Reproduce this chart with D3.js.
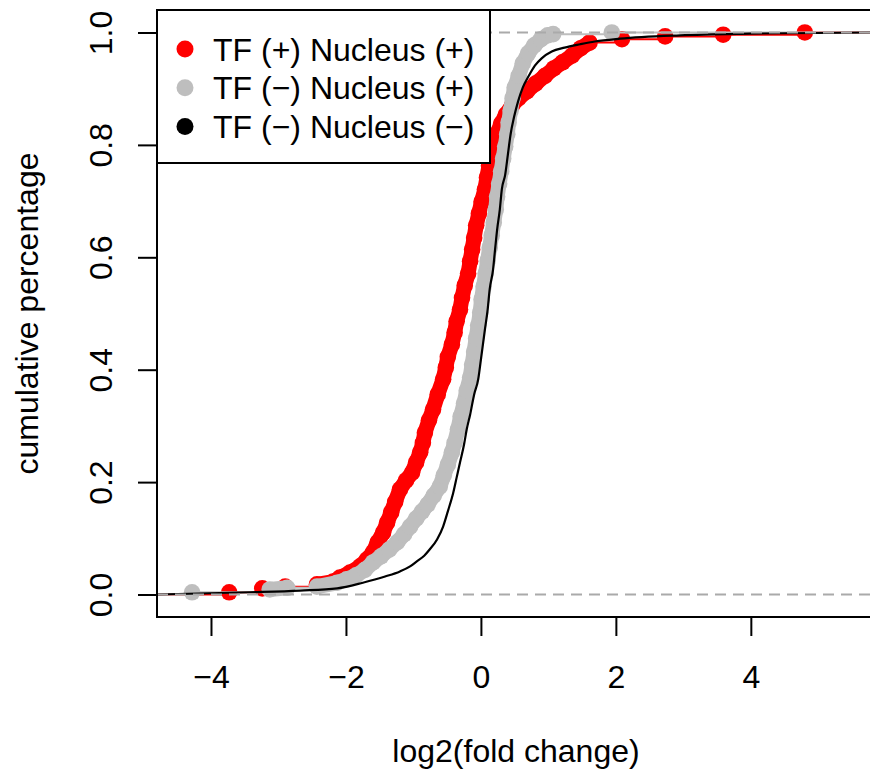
<!DOCTYPE html>
<html>
<head>
<meta charset="utf-8">
<script src="https://cdnjs.cloudflare.com/ajax/libs/d3/7.8.5/d3.min.js"></script>
<style>
body { margin: 0; background: #fff; }
svg { display: block; font-family: "Liberation Sans", Arial, Helvetica, sans-serif; }
</style>
</head>
<body>
<div id="chart"></div>
<script>
"use strict";

// ecdf points (log2 fold change, cumulative fraction)
var redX = [-3.73, -3.24, -2.90, -2.43, -2.19, -2.09, -1.94, -1.79, -1.69, -1.60, -1.53, -1.45, -1.39, -1.33, -1.27,
    -1.20, -1.11, -1.02, -0.96, -0.90, -0.86, -0.83, -0.77, -0.71, -0.64, -0.56, -0.52, -0.49, -0.43, -0.39,
    -0.36, -0.31, -0.28, -0.24, -0.19, -0.16, -0.13, -0.10, -0.07, -0.03, 0.01, 0.06, 0.09, 0.12, 0.15,
    0.19, 0.24, 0.30, 0.37, 0.46, 0.56, 0.68, 0.81, 0.95, 1.08, 1.21, 1.35, 1.48, 1.61, 2.09, 2.73, 3.59, 4.80];
var redY = [0.004, 0.011, 0.014, 0.018, 0.023, 0.030, 0.039, 0.050, 0.062, 0.075, 0.093, 0.110, 0.128, 0.146, 0.165,
    0.187, 0.203, 0.217, 0.235, 0.253, 0.270, 0.288, 0.310, 0.329, 0.356, 0.383, 0.404, 0.423, 0.445, 0.466,
    0.486, 0.507, 0.528, 0.550, 0.571, 0.593, 0.614, 0.635, 0.657, 0.678, 0.699, 0.721, 0.742, 0.763, 0.783,
    0.802, 0.820, 0.838, 0.854, 0.870, 0.883, 0.895, 0.909, 0.923, 0.936, 0.947, 0.959, 0.972, 0.982, 0.988, 0.993, 0.996, 1.000];

var grayX = [-4.28, -3.13, -2.87, -2.43, -2.13, -1.99, -1.85, -1.72, -1.60, -1.48, -1.36, -1.24, -1.14, -1.05, -0.96,
    -0.87, -0.79, -0.70, -0.61, -0.55, -0.49, -0.43, -0.39, -0.34, -0.30, -0.25, -0.21, -0.16, -0.13, -0.10,
    -0.07, -0.04, -0.01, 0.01, 0.04, 0.07, 0.10, 0.13, 0.16, 0.19, 0.22, 0.24, 0.27, 0.30, 0.33,
    0.36, 0.39, 0.41, 0.44, 0.47, 0.50, 0.56, 0.62, 0.70, 0.79, 0.89, 0.99, 1.07, 1.94];
var grayY = [0.004, 0.009, 0.012, 0.014, 0.021, 0.027, 0.034, 0.044, 0.057, 0.068, 0.080, 0.093, 0.107, 0.121, 0.135,
    0.148, 0.160, 0.176, 0.192, 0.212, 0.231, 0.253, 0.270, 0.294, 0.317, 0.340, 0.363, 0.386, 0.409, 0.432,
    0.456, 0.479, 0.502, 0.525, 0.548, 0.571, 0.594, 0.617, 0.639, 0.662, 0.685, 0.708, 0.731, 0.753, 0.776,
    0.797, 0.819, 0.840, 0.861, 0.883, 0.902, 0.923, 0.945, 0.963, 0.977, 0.988, 0.995, 0.997, 1.000];

var blackX = [-4.80, -3.42, -2.68, -2.13, -1.75, -1.42, -1.20, -1.05, -0.95, -0.84, -0.76, -0.65, -0.56, -0.49, -0.41,
    -0.36, -0.31, -0.25, -0.21, -0.16, -0.10, -0.04, 0.00, 0.06, 0.10, 0.13, 0.18, 0.21, 0.24, 0.28,
    0.31, 0.36, 0.40, 0.44, 0.49, 0.55, 0.62, 0.71, 0.80, 0.90, 1.05, 1.24, 1.47, 1.69, 2.06, 2.95, 3.99, 5.76];
var blackY = [0.000, 0.004, 0.007, 0.011, 0.021, 0.032, 0.041, 0.050, 0.059, 0.069, 0.080, 0.098, 0.121, 0.148, 0.181,
    0.208, 0.235, 0.267, 0.294, 0.320, 0.356, 0.383, 0.418, 0.472, 0.507, 0.543, 0.578, 0.614, 0.649, 0.685,
    0.721, 0.747, 0.783, 0.819, 0.849, 0.877, 0.902, 0.923, 0.941, 0.954, 0.966, 0.973, 0.979, 0.984, 0.989, 0.995, 0.998, 1.000];

var legendLabels = ["TF (+) Nucleus (+)", "TF (\u2212) Nucleus (+)", "TF (\u2212) Nucleus (\u2212)"];
var legendColors = ["#FF0000", "#BEBEBE", "#000000"];
var xTicks = [-4, -2, 0, 2, 4];
var yTicks = [0, 0.2, 0.4, 0.6, 0.8, 1.0];

var W = 870, H = 769, FS = 32, R = 8.3;

var x = d3.scaleLinear().domain([-4.8, 5.84]).range([157, 875]);
var y = d3.scaleLinear().domain([-0.04, 1.04]).range([617, 10]);

var svg = d3.select("#chart").append("svg")
    .attr("width", W)
    .attr("height", H);

svg.append("defs").append("clipPath").attr("id", "plotclip")
    .append("rect")
    .attr("x", x.range()[0])
    .attr("y", y.range()[1])
    .attr("width", x.range()[1] - x.range()[0])
    .attr("height", y.range()[0] - y.range()[1]);

var plot = svg.append("g").attr("clip-path", "url(#plotclip)");

function zip(xs, ys) {
    return xs.map(function (v, i) { return { x: v, y: ys[i] }; });
}

var series = [
    { pts: zip(redX, redY), color: legendColors[0], dots: true },
    { pts: zip(grayX, grayY), color: legendColors[1], dots: true },
    { pts: zip(blackX, blackY), color: legendColors[2], dots: false }
];

var stepLine = d3.line()
    .x(function (d) { return x(d.x); })
    .y(function (d) { return y(d.y); })
    .curve(d3.curveStepAfter);

var smoothLine = d3.line()
    .x(function (d) { return x(d.x); })
    .y(function (d) { return y(d.y); })
    .curve(d3.curveMonotoneX);

var xd = x.domain();

series.forEach(function (s) {
    if (s.dots) {
        // ecdf horizontals run out to the plot edges
        var pts = [{ x: xd[0], y: 0 }].concat(s.pts, [{ x: xd[1], y: 1 }]);
        plot.append("path")
            .attr("d", stepLine(pts))
            .attr("fill", "none")
            .attr("stroke", s.color)
            .attr("stroke-width", 2);

        // where the points crowd together they merge into one band
        var segs = [];
        for (var i = 1; i < s.pts.length; i++) {
            var a = s.pts[i - 1], b = s.pts[i];
            var dist = Math.hypot(x(b.x) - x(a.x), y(b.y) - y(a.y));
            if (dist < 22) segs.push([a, b]);
        }
        plot.append("g")
            .selectAll("line")
            .data(segs)
            .join("line")
            .attr("x1", function (d) { return x(d[0].x); })
            .attr("y1", function (d) { return y(d[0].y); })
            .attr("x2", function (d) { return x(d[1].x); })
            .attr("y2", function (d) { return y(d[1].y); })
            .attr("stroke", s.color)
            .attr("stroke-width", 2 * R - 1.5)
            .attr("stroke-linecap", "round");

        plot.append("g")
            .selectAll("circle")
            .data(s.pts)
            .join("circle")
            .attr("cx", function (d) { return x(d.x); })
            .attr("cy", function (d) { return y(d.y); })
            .attr("r", R)
            .attr("fill", s.color);
    } else {
        plot.append("path")
            .attr("d", smoothLine(s.pts.concat([{ x: xd[1], y: 1 }])))
            .attr("fill", "none")
            .attr("stroke", s.color)
            .attr("stroke-width", 2.2);
    }
});

// legend (white box, top-left)
var leg = svg.append("g");
leg.append("rect")
    .attr("x", 157)
    .attr("y", 10)
    .attr("width", 333)
    .attr("height", 153)
    .attr("fill", "#fff")
    .attr("stroke", "#000")
    .attr("stroke-width", 2);

var item = leg.selectAll("g.item")
    .data(legendLabels)
    .join("g")
    .attr("class", "item")
    .attr("transform", function (d, i) { return "translate(0," + (49 + i * 38.7) + ")"; });

item.append("circle")
    .attr("cx", 185)
    .attr("cy", 0)
    .attr("r", 8.5)
    .attr("fill", function (d, i) { return legendColors[i]; });

item.append("text")
    .attr("x", 213)
    .attr("y", 11.5)
    .style("font-size", FS + "px")
    .text(function (d) { return d; });

// reference lines at 0 and 1
plot.selectAll("line.ref")
    .data([0, 1])
    .join("line")
    .attr("class", "ref")
    .attr("x1", x.range()[0])
    .attr("x2", x.range()[1])
    .attr("y1", function (d) { return y(d); })
    .attr("y2", function (d) { return y(d); })
    .attr("stroke", "#AAAAAA")
    .attr("stroke-width", 2)
    .attr("stroke-dasharray", "11,7");

// frame
svg.append("rect")
    .attr("x", x.range()[0])
    .attr("y", y.range()[1])
    .attr("width", x.range()[1] - x.range()[0])
    .attr("height", y.range()[0] - y.range()[1])
    .attr("fill", "none")
    .attr("stroke", "#000")
    .attr("stroke-width", 2);

// axes
var gx = svg.append("g")
    .attr("transform", "translate(0," + y.range()[0] + ")")
    .call(d3.axisBottom(x)
        .tickValues(xTicks)
        .tickSize(19)
        .tickFormat(function (d) { return d < 0 ? "\u2212" + Math.abs(d) : String(d); }));
gx.select(".domain").remove();
gx.selectAll(".tick line").attr("stroke", "#000").attr("stroke-width", 2);
gx.selectAll(".tick text")
    .attr("y", 71)
    .attr("dy", null)
    .attr("fill", "#000")
    .style("font-size", FS + "px")
    .style("font-family", "'Liberation Sans', Arial, Helvetica, sans-serif");

var gy = svg.append("g")
    .attr("transform", "translate(" + x.range()[0] + ",0)")
    .call(d3.axisLeft(y)
        .tickValues(yTicks)
        .tickSize(19)
        .tickFormat(d3.format(".1f")));
gy.select(".domain").remove();
gy.selectAll(".tick line").attr("stroke", "#000").attr("stroke-width", 2);
gy.selectAll(".tick text")
    .attr("x", null)
    .attr("dy", null)
    .attr("text-anchor", "middle")
    .attr("transform", "translate(-45,0) rotate(-90)")
    .attr("fill", "#000")
    .style("font-size", FS + "px")
    .style("font-family", "'Liberation Sans', Arial, Helvetica, sans-serif");

svg.append("text")
    .attr("x", (x.range()[0] + x.range()[1]) / 2)
    .attr("y", 762)
    .attr("text-anchor", "middle")
    .style("font-size", FS + "px")
    .text("log2(fold change)");

svg.append("text")
    .attr("transform", "translate(38," + ((y.range()[0] + y.range()[1]) / 2) + ") rotate(-90)")
    .attr("text-anchor", "middle")
    .style("font-size", FS + "px")
    .text("cumulative percentage");
</script>
</body>
</html>
